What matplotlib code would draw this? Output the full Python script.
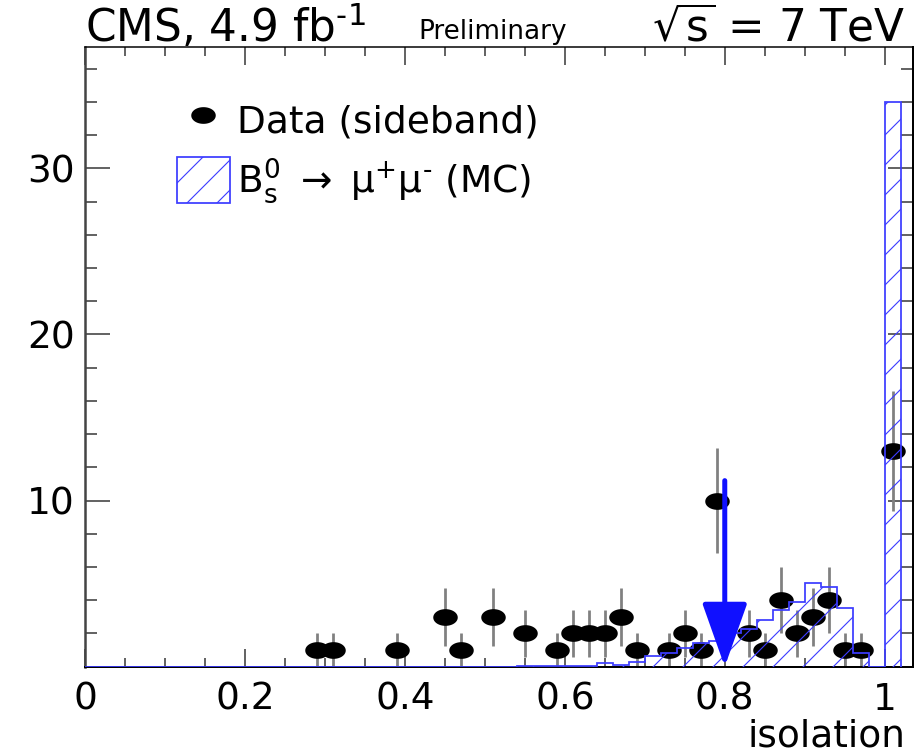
import numpy as np
import matplotlib
matplotlib.use('Agg')
import matplotlib.pyplot as plt
from matplotlib.path import Path
from matplotlib.lines import Line2D
from matplotlib.patches import Patch
from matplotlib.ticker import MultipleLocator

# sideband data: bin centres and counts
data_x = [0.29, 0.31, 0.39, 0.45, 0.47, 0.51, 0.55, 0.59, 0.61, 0.63, 0.65, 0.67, 0.69,
          0.73, 0.75, 0.77, 0.79, 0.83, 0.85, 0.87, 0.89, 0.91, 0.93, 0.95, 0.97, 1.01]
data_y = [1, 1, 1, 3, 1, 3, 2, 1, 2, 2, 2, 3, 1,
          1, 2, 1, 10, 2, 1, 4, 2, 3, 4, 1, 1, 13]

# Bs -> mumu MC, bins of 0.02 from 0.54 to 1.02 (zero below 0.54)
mc_tail = [0.05, 0.05, 0.05, 0.05, 0.05, 0.25, 0.1, 0.3, 0.65, 0.8, 1.1, 1.4,
           1.55, 2.0, 2.3, 2.8, 3.4, 3.9, 5.05, 4.8, 3.55, 0.8, 0.0, 34.0]

cut_value = 0.8
cut_arrow_top = 11.2

xticks = [0, 0.2, 0.4, 0.6, 0.8, 1.0]
xtick_labels = ['0', '0.2', '0.4', '0.6', '0.8', '1']
yticks = [10, 20, 30]

plt.rcParams['font.family'] = ['DejaVu Sans']
plt.rcParams['hatch.linewidth'] = 0.45

mc_edges = np.round(np.linspace(0, 1.02, 52), 2)
mc_counts = np.zeros(51)
mc_counts[51 - len(mc_tail):] = mc_tail

fig = plt.figure(figsize=(922 / 180, 756 / 180), dpi=180)
ax = fig.add_axes([0.0922, 0.1181, 0.8977, 0.8197])

# wide elliptic marker, like in the original
t = np.linspace(0, 2 * np.pi, 60)
ellipse = Path(np.column_stack([1.55 * np.cos(t), np.sin(t)]), closed=True)

ax.errorbar(data_x, data_y, yerr=np.sqrt(data_y), fmt='none', ecolor='#808080',
            elinewidth=1.1, capsize=0, zorder=2)
ax.plot(data_x, data_y, ls='none', marker=ellipse, ms=8.8, color='black', zorder=3)

ax.bar(mc_edges[:-1], mc_counts, width=0.02, align='edge', fill=False, hatch='//',
       edgecolor='#3c3cff', linewidth=0, zorder=4)
ax.stairs(mc_counts, mc_edges, color='#3c3cff', linewidth=0.7, zorder=5)

ax.annotate('', xy=(cut_value, 0), xytext=(cut_value, cut_arrow_top),
            arrowprops=dict(arrowstyle='-|>,head_length=22,head_width=7.8',
                            mutation_scale=1, color='#1010ff', lw=2.0,
                            shrinkA=0, shrinkB=0),
            zorder=6)

ax.set_xlim(0, 1.035)
ax.set_ylim(0, 37.3)
ax.set_xticks(xticks)
ax.set_xticklabels(xtick_labels)
ax.xaxis.set_minor_locator(MultipleLocator(0.05))
ax.set_yticks(yticks)
ax.yaxis.set_minor_locator(MultipleLocator(2))

ax.tick_params(axis='both', which='both', direction='in', top=True, right=True,
               colors='#333333', labelcolor='black')
ax.tick_params(axis='x', which='major', length=7.2, width=0.6, pad=6, labelsize=15)
ax.tick_params(axis='x', which='minor', length=3.6, width=0.6)
ax.tick_params(axis='y', which='major', length=10, width=0.6, pad=4, labelsize=15)
ax.tick_params(axis='y', which='minor', length=4.8, width=0.6)

ax.spines['left'].set_linewidth(1.0)
ax.spines['left'].set_color('#444444')
ax.spines['bottom'].set_linewidth(0.8)
ax.spines['top'].set_linewidth(0.6)
ax.spines['right'].set_linewidth(0.8)

handles = [Line2D([], [], ls='none', marker=ellipse, ms=8.8, color='black'),
           Patch(facecolor='none', edgecolor='#3c3cff', hatch='//', linewidth=0.7)]
labels = ['Data (sideband)',
          r'B$_{\rm s}^{0}$ $\rightarrow$ μ$^{+}$μ$^{\text{-}}$ (MC)']
ax.legend(handles, labels, loc='upper left', bbox_to_anchor=(0.111, 0.919),
          frameon=False, fontsize=15, handlelength=1.41, handleheight=1.5,
          handletextpad=0.2, labelspacing=0.35, borderpad=0, borderaxespad=0)

fig.text(85 / 922, 0.945, r'CMS, 4.9 fb$^{\text{-}1}$', fontsize=17.5,
         ha='left', va='baseline')
fig.text(418 / 922, 0.948, 'Preliminary', fontsize=10.5, ha='left', va='baseline')
fig.text(905 / 922, 0.945, r'$\sqrt{\mathrm{s}}$ = 7 TeV', fontsize=17.5,
         ha='right', va='baseline')
fig.text(905 / 922, 0.002, 'isolation', fontsize=15, ha='right', va='bottom')

fig.savefig('out.png', dpi=180)
